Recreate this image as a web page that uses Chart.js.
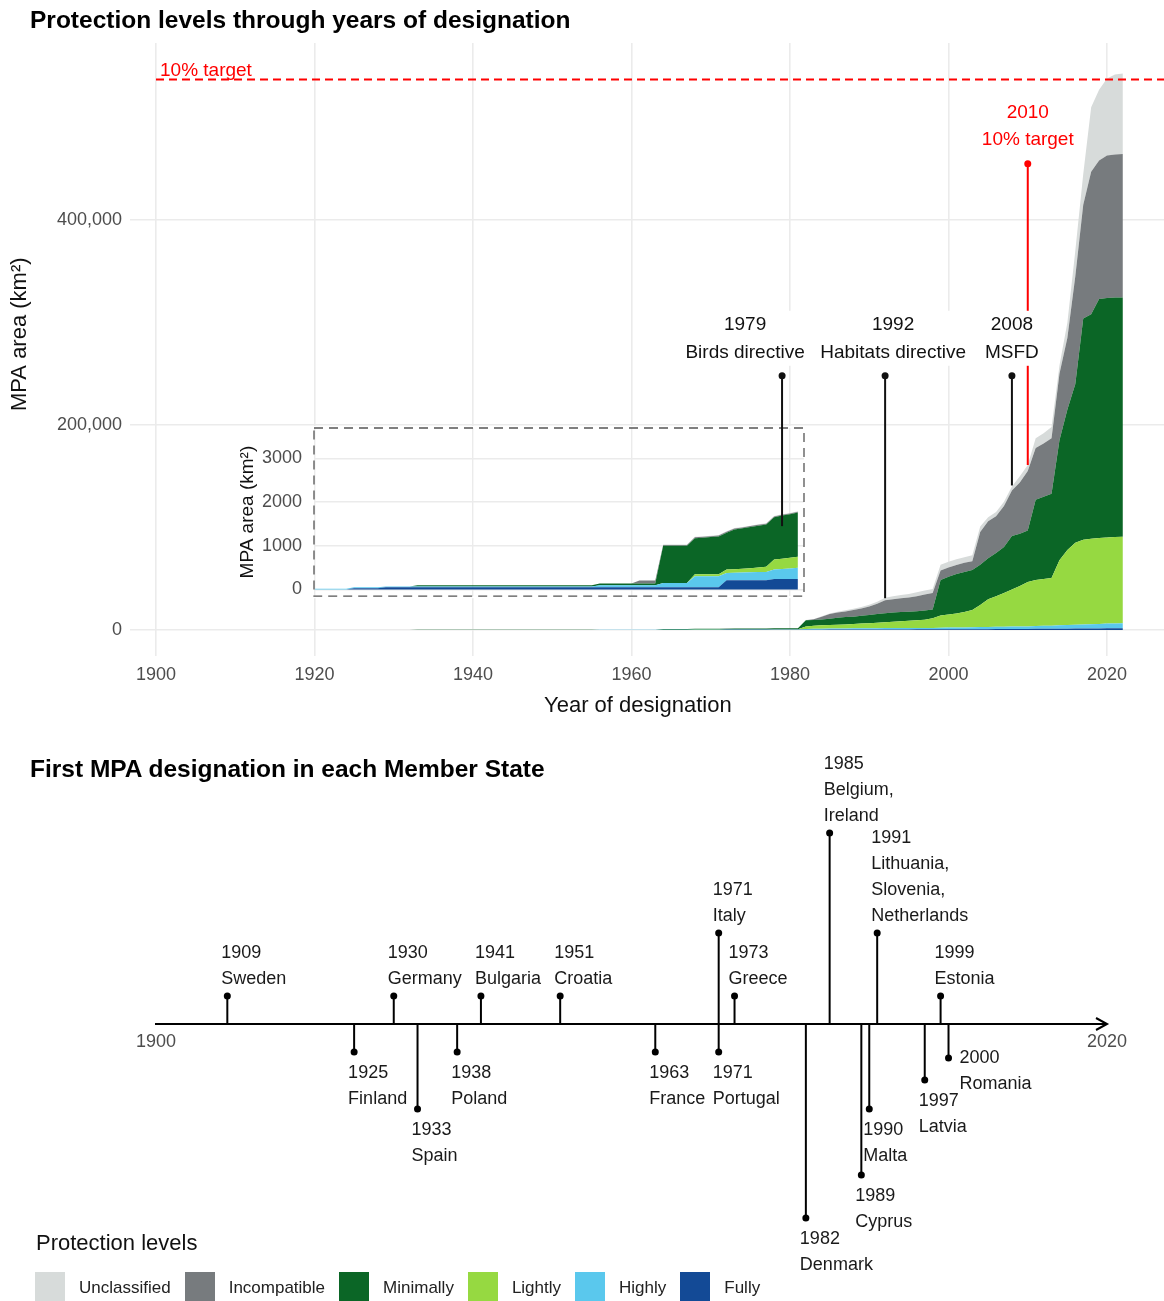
<!DOCTYPE html>
<html>
<head>
<meta charset="utf-8">
<script src="https://cdn.jsdelivr.net/npm/chart.js@4.4.1/dist/chart.umd.min.js"></script>
<style>
  html, body { margin: 0; padding: 0; background: #fff; }
  body { width: 1164px; height: 1301px; position: relative; overflow: hidden; font-family: "Liberation Sans", Arial, sans-serif; }
  canvas { position: absolute; }
  .titulo { position: absolute; left: 30px; font-weight: bold; font-size: 24.5px; line-height: 28px; color: #000; z-index: 5; }
  #leyenda { position: absolute; left: 35px; top: 1229px; z-index: 5; }
  #leyenda .cab { font-size: 22px; line-height: 28px; color: #111; margin-left: 1px; }
  #leyenda .fila { display: flex; align-items: center; margin-top: 15px; }
  #leyenda .caja { width: 30px; height: 30px; margin-right: 14px; }
  #leyenda .txt { font-size: 17px; color: #222; margin-right: 14px; position: relative; top: 1px; }
</style>
</head>
<body>
<div class="titulo" style="top:6px">Protection levels through years of designation</div>
<canvas id="mainChart" width="1164" height="720" style="left:0;top:0"></canvas>
<canvas id="insetChart" width="580" height="319" style="left:230px;top:300px"></canvas>
<div class="titulo" style="top:755px">First MPA designation in each Member State</div>
<canvas id="timelineChart" width="1164" height="540" style="left:0;top:740px"></canvas>
<div id="leyenda"></div>

<script>
// ---- datos: superficie acumulada de AMP (km²) por año y nivel de protección ----
const years = [
  1920, 1921, 1922, 1923, 1924, 1925, 1926, 1927, 1928, 1929,
  1930, 1931, 1932, 1933, 1934, 1935, 1936, 1937, 1938, 1939,
  1940, 1941, 1942, 1943, 1944, 1945, 1946, 1947, 1948, 1949,
  1950, 1951, 1952, 1953, 1954, 1955, 1956, 1957, 1958, 1959,
  1960, 1961, 1962, 1963, 1964, 1965, 1966, 1967, 1968, 1969,
  1970, 1971, 1972, 1973, 1974, 1975, 1976, 1977, 1978, 1979,
  1980, 1981, 1982, 1983, 1984, 1985, 1986, 1987, 1988, 1989,
  1990, 1991, 1992, 1993, 1994, 1995, 1996, 1997, 1998, 1999,
  2000, 2001, 2002, 2003, 2004, 2005, 2006, 2007, 2008, 2009,
  2010, 2011, 2012, 2013, 2014, 2015, 2016, 2017, 2018, 2019,
  2020, 2021, 2022
];

const fully = [
  0, 0, 0, 0, 0, 30, 30, 30, 30, 50,
  50, 50, 50, 50, 50, 50, 50, 50, 50, 50,
  50, 50, 50, 50, 50, 50, 50, 50, 50, 50,
  50, 50, 50, 50, 50, 50, 50, 50, 50, 50,
  50, 50, 50, 50, 50, 50, 50, 50, 50, 50,
  50, 50, 213, 213, 213, 213, 213, 213, 243, 243,
  243, 243, 300, 300, 300, 400, 400, 400, 400, 400,
  500, 500, 500, 500, 500, 500, 600, 600, 600, 600,
  700, 700, 700, 700, 800, 800, 900, 900, 1000, 1000,
  1000, 1100, 1100, 1200, 1200, 1300, 1400, 1400, 1500, 1500,
  1600, 1600, 1700
];

const highly = [
  20, 20, 20, 20, 20, 20, 20, 20, 20, 20,
  20, 20, 20, 20, 20, 20, 20, 20, 20, 20,
  20, 20, 20, 20, 20, 20, 20, 20, 20, 20,
  20, 20, 20, 20, 20, 20, 45, 45, 45, 45,
  45, 45, 45, 45, 100, 100, 100, 100, 255, 255,
  255, 255, 167, 170, 175, 180, 185, 190, 215, 225,
  240, 252, 700, 900, 1000, 1000, 1100, 1100, 1200, 1200,
  1200, 1200, 1300, 1300, 1300, 1400, 1300, 1400, 1400, 1600,
  1600, 1700, 1800, 1900, 2000, 2200, 2200, 2300, 2300, 2400,
  2500, 2700, 2900, 3000, 3300, 3500, 3600, 3900, 4100, 4400,
  4600, 4800, 4800
];

const lightly = [
  0, 0, 0, 0, 0, 0, 0, 0, 0, 0,
  0, 0, 0, 0, 0, 0, 0, 0, 0, 0,
  0, 0, 0, 0, 0, 0, 0, 0, 0, 0,
  0, 0, 0, 0, 0, 0, 0, 0, 0, 0,
  0, 0, 0, 0, 0, 0, 0, 0, 45, 45,
  45, 45, 78, 80, 85, 95, 105, 115, 229, 236,
  244, 252, 2500, 2800, 3200, 3400, 3500, 3800, 4200, 4600,
  4800, 5300, 5700, 6200, 6700, 7100, 7600, 8000, 9500, 11800,
  12700, 13600, 15000, 16900, 21600, 27000, 29900, 32800, 36100, 39600,
  43300, 45000, 45800, 46500, 63500, 73200, 80000, 82700, 83400, 83900,
  84100, 84300, 84400
];

const minimally = [
  0, 0, 0, 0, 0, 0, 0, 0, 0, 0,
  0, 0, 0, 25, 25, 25, 25, 25, 25, 25,
  25, 25, 25, 25, 25, 25, 25, 25, 25, 25,
  25, 25, 25, 25, 25, 25, 40, 40, 40, 40,
  40, 40, 40, 40, 850, 850, 850, 850, 825, 835,
  850, 865, 842, 912, 927, 942, 957, 967, 963, 986,
  993, 1013, 6000, 5800, 5700, 6200, 7000, 7300, 7200, 7600,
  8100, 8500, 8800, 9000, 9000, 8800, 8800, 8900, 8500, 34800,
  37000, 38500, 39000, 39000, 39300, 40000, 42000, 45000, 52300, 51000,
  50200, 78200, 80200, 82300, 117000, 137000, 155000, 216000, 219000, 233200,
  233700, 233800, 233600
];

const incompatible = [
  0, 0, 0, 0, 0, 0, 0, 0, 0, 0,
  0, 0, 0, 0, 0, 0, 0, 0, 0, 0,
  0, 0, 0, 0, 0, 0, 0, 0, 0, 0,
  0, 0, 0, 0, 0, 0, 0, 0, 0, 0,
  0, 70, 70, 70, 20, 20, 20, 20, 20, 20,
  20, 20, 20, 20, 20, 20, 20, 20, 20, 20,
  20, 20, 100, 700, 2800, 4500, 5000, 5400, 6500, 7200,
  8200, 10000, 12700, 13000, 13400, 14000, 14700, 15600, 16000, 9200,
  9000, 9000, 9000, 8500, 31900, 36000, 36000, 40000, 44300, 50000,
  58000, 50600, 52000, 54000, 65000, 70000, 105000, 111000, 139000, 135000,
  139000, 139500, 139800
];

const unclassified = [
  0, 0, 0, 0, 0, 0, 0, 0, 0, 0,
  0, 0, 0, 0, 0, 0, 0, 0, 0, 0,
  0, 0, 0, 0, 0, 0, 0, 0, 0, 0,
  0, 0, 0, 0, 0, 0, 0, 0, 0, 0,
  0, 0, 0, 0, 10, 10, 10, 10, 10, 10,
  10, 10, 10, 10, 10, 10, 10, 10, 10, 10,
  10, 10, 100, 300, 500, 500, 800, 1200, 1300, 1500,
  1700, 2000, 2500, 3000, 3100, 3400, 3800, 4000, 4000, 5700,
  5500, 5500, 5500, 6000, 5400, 4000, 4000, 4000, 4000, 6000,
  6000, 9400, 10000, 11000, 8000, 15000, 25000, 30000, 63000, 69000,
  75000, 78000, 78700
];

// niveles en el orden de la leyenda (de arriba a abajo de la pila)
const levelNames = ["Unclassified", "Incompatible", "Minimally", "Lightly", "Highly", "Fully"];
const levelColors = ["#d7dbda", "#777b7e", "#0b6626", "#96d941", "#5ac8ed", "#134a96"];
const levelValues = [unclassified, incompatible, minimally, lightly, highly, fully];

const xTicks = [1900, 1920, 1940, 1960, 1980, 2000, 2020];
const yTicks = [0, 200000, 400000];
const insetXTicks = [1920, 1940, 1960, 1980];
const insetYTicks = [0, 1000, 2000, 3000];
const insetLastYear = 1981;

// hitos legislativos
const milestoneYears = [1979, 1992, 2008, 2010];
const milestoneNames = ["Birds directive", "Habitats directive", "MSFD", "10% target"];
const milestoneTop = [248000, 248000, 248000, 455000];
const milestoneEnd = [1450, 31000, 141000, 161000]; // el de 1979 se lee en el recuadro
const milestoneColors = ["#111", "#111", "#111", "#ff0000"];
const labelShift = [-37, 8, 0, 0];
const targetArea = 537000;

// primera designación por Estado miembro
const firstYears = [1909, 1925, 1930, 1933, 1938, 1941, 1951, 1963, 1971, 1971, 1973, 1982, 1985, 1989, 1990, 1991, 1997, 1999, 2000];
const memberStates = ["Sweden", "Finland", "Germany", "Spain", "Poland", "Bulgaria", "Croatia", "France", "Italy", "Portugal", "Greece", "Denmark", "Belgium,\nIreland", "Cyprus", "Malta", "Lithuania,\nSlovenia,\nNetherlands", "Latvia", "Estonia", "Romania"];
const stemHeights = [28, -28, 28, -85, -28, 28, 28, -28, 91, -28, 28, -194, 191, -151, -85, 91, -56, 28, -34];
const sideLabels = ["Romania"];
const axisEnds = [1900, 2020];

const FONT = '"Liberation Sans", Arial, sans-serif';
Chart.defaults.font.family = FONT;
Chart.defaults.color = "#4d4d4d";

// pila: Fully abajo, Unclassified arriba
function stackedSets(lastYear) {
  const idx = years.map((y, j) => j).filter(j => years[j] <= lastYear);
  return levelNames.map((n, i) => i).reverse().map((i, k) => ({
    label: levelNames[i],
    data: idx.map(j => ({ x: years[j], y: levelValues[i][j] })),
    backgroundColor: levelColors[i],
    borderColor: "transparent",
    borderWidth: 0,
    pointRadius: 0,
    tension: 0,
    fill: k === 0 ? "origin" : "-1"
  }));
}

// ---- notas del gráfico principal ----
const mainNotes = {
  id: "mainNotes",
  afterDatasetsDraw(chart) {
    const { ctx, chartArea, scales: { x, y } } = chart;
    ctx.save();
    const yT = y.getPixelForValue(targetArea);
    const x0 = x.getPixelForValue(1900);
    ctx.strokeStyle = "#ff0000";
    ctx.lineWidth = 2;
    ctx.setLineDash([8, 5]);
    ctx.beginPath(); ctx.moveTo(x0, yT); ctx.lineTo(chartArea.right, yT); ctx.stroke();
    ctx.setLineDash([]);
    ctx.font = "19px " + FONT;
    ctx.fillStyle = "#ff0000";
    ctx.textAlign = "left";
    ctx.textBaseline = "middle";
    ctx.fillText("10% target", x0 + 4, yT - 9);

    milestoneYears.forEach((yr, i) => {
      const px = x.getPixelForValue(yr);
      const top = y.getPixelForValue(milestoneTop[i]);
      ctx.strokeStyle = milestoneColors[i];
      ctx.fillStyle = milestoneColors[i];
      ctx.lineWidth = 2;
      if (yr > insetLastYear) {
        ctx.beginPath(); ctx.moveTo(px, top); ctx.lineTo(px, y.getPixelForValue(milestoneEnd[i])); ctx.stroke();
      }
      ctx.beginPath(); ctx.arc(px, top, 3.5, 0, Math.PI * 2); ctx.fill();
    });

    milestoneYears.forEach((yr, i) => {
      const cx = x.getPixelForValue(yr) + labelShift[i];
      const top = y.getPixelForValue(milestoneTop[i]);
      const lines = [String(yr), milestoneNames[i]];
      const w = Math.max(...lines.map(t => ctx.measureText(t).width));
      ctx.fillStyle = "#fff";
      ctx.fillRect(cx - w / 2 - 4, top - 65, w + 8, 55);
      ctx.fillStyle = milestoneColors[i];
      ctx.textAlign = "center";
      ctx.fillText(lines[0], cx, top - 51);
      ctx.fillText(lines[1], cx, top - 23.5);
    });
    ctx.restore();
  }
};

const mainChart = new Chart(document.getElementById("mainChart"), {
  type: "line",
  data: { datasets: stackedSets(2022) },
  options: {
    responsive: false,
    animation: false,
    layout: { autoPadding: false, padding: { top: 43, left: 0, right: 0, bottom: 0 } },
    plugins: { legend: { display: false }, tooltip: { enabled: false } },
    scales: {
      x: {
        type: "linear", min: 1896.72, max: 2027.19,
        afterBuildTicks: s => { s.ticks = xTicks.map(v => ({ value: v })); },
        afterFit: s => { s.height = 64; },
        grid: { color: "#ebebeb", lineWidth: 1.6, drawTicks: false },
        border: { display: false },
        ticks: { padding: 8, maxRotation: 0, font: { size: 18 }, color: "#4d4d4d", callback: v => String(v) },
        title: { display: true, text: "Year of designation   ", color: "#111", font: { size: 22 }, padding: { top: 0, bottom: 1 } }
      },
      y: {
        stacked: true, min: -25400, max: 572700,
        afterBuildTicks: s => { s.ticks = yTicks.map(v => ({ value: v })); },
        afterFit: s => { s.width = 130; },
        grid: { color: "#ebebeb", lineWidth: 1.6, drawTicks: false },
        border: { display: false },
        ticks: { padding: 8, font: { size: 18 }, color: "#4d4d4d", callback: v => v.toLocaleString("en-US") },
        title: { display: true, text: "     MPA area (km²)", color: "#111", font: { size: 22 }, padding: { top: 7, bottom: 0 } }
      }
    }
  },
  plugins: [mainNotes]
});

// ---- recuadro 1920-1981 ----
const insetCanvas = document.getElementById("insetChart");
const insetNotes = {
  id: "insetNotes",
  beforeDraw(chart) {
    const { ctx, chartArea } = chart;
    ctx.save();
    ctx.fillStyle = "#fff";
    ctx.fillRect(0, chartArea.top - 2, chart.width, chartArea.bottom - chartArea.top + 4);
    ctx.restore();
  },
  afterDatasetsDraw(chart) {
    const { ctx, chartArea, scales: { x, y } } = chart;
    ctx.save();
    ctx.strokeStyle = "#555";
    ctx.lineWidth = 1.3;
    ctx.setLineDash([9, 6]);
    ctx.strokeRect(chartArea.left, chartArea.top, chartArea.right - chartArea.left, chartArea.bottom - chartArea.top);
    ctx.setLineDash([]);
    const dy = insetCanvas.offsetTop - document.getElementById("mainChart").offsetTop;
    milestoneYears.forEach((yr, i) => {
      if (yr > insetLastYear) return;
      const px = x.getPixelForValue(yr);
      ctx.strokeStyle = milestoneColors[i];
      ctx.lineWidth = 2;
      ctx.beginPath();
      ctx.moveTo(px, mainChart.scales.y.getPixelForValue(milestoneTop[i]) - dy);
      ctx.lineTo(px, y.getPixelForValue(milestoneEnd[i]));
      ctx.stroke();
    });
    ctx.restore();
  }
};

new Chart(insetCanvas, {
  type: "line",
  data: { datasets: stackedSets(insetLastYear) },
  options: {
    responsive: false,
    animation: false,
    layout: { autoPadding: false, padding: { top: 128, left: 0, right: 6, bottom: 4 } },
    plugins: { legend: { display: false }, tooltip: { enabled: false } },
    scales: {
      x: {
        type: "linear", min: 1919.94, max: 1981.77,
        afterBuildTicks: s => { s.ticks = insetXTicks.map(v => ({ value: v })); },
        afterFit: s => { s.height = 0; },
        grid: { color: "#ebebeb", lineWidth: 1.4, drawTicks: false },
        border: { display: false },
        ticks: { display: false }
      },
      y: {
        stacked: true, min: -153, max: 3694,
        afterBuildTicks: s => { s.ticks = insetYTicks.map(v => ({ value: v })); },
        afterFit: s => { s.width = 84; },
        grid: { color: "#ebebeb", lineWidth: 1.4, drawTicks: false },
        border: { display: false },
        ticks: { padding: 12, font: { size: 18 }, color: "#4d4d4d", callback: v => String(v) },
        title: { display: true, text: "MPA area (km²)", color: "#111", font: { size: 19 }, padding: { top: 6, bottom: 0 } }
      }
    }
  },
  plugins: [insetNotes]
});

// ---- línea de tiempo ----
const timelineNotes = {
  id: "timelineNotes",
  beforeDatasetsDraw(chart) {
    const { ctx, scales: { x, y } } = chart;
    const y0 = y.getPixelForValue(0);
    ctx.save();
    ctx.strokeStyle = "#000";
    ctx.lineWidth = 2;
    const xa = x.getPixelForValue(axisEnds[0]) - 1;
    const xb = x.getPixelForValue(axisEnds[1]);
    ctx.beginPath(); ctx.moveTo(xa, y0); ctx.lineTo(xb, y0); ctx.stroke();
    ctx.beginPath(); ctx.moveTo(xb - 11, y0 - 6); ctx.lineTo(xb, y0); ctx.lineTo(xb - 11, y0 + 6); ctx.stroke();
    firstYears.forEach((yr, i) => {
      const px = x.getPixelForValue(yr);
      ctx.beginPath(); ctx.moveTo(px, y0); ctx.lineTo(px, y.getPixelForValue(stemHeights[i])); ctx.stroke();
    });
    ctx.restore();
  },
  afterDatasetsDraw(chart) {
    const { ctx, scales: { x, y } } = chart;
    ctx.save();
    ctx.font = "18px " + FONT;
    ctx.fillStyle = "#1a1a1a";
    ctx.textAlign = "left";
    ctx.textBaseline = "middle";
    firstYears.forEach((yr, i) => {
      const px = x.getPixelForValue(yr);
      const py = y.getPixelForValue(stemHeights[i]);
      const lines = [String(yr), ...memberStates[i].split("\n")];
      lines.forEach((t, k) => {
        let lx = px - 6, ly;
        if (sideLabels.includes(memberStates[i])) { lx = px + 11; ly = py + k * 26; }
        else if (stemHeights[i] > 0) ly = py - 17 - (lines.length - 1 - k) * 26;
        else ly = py + 21 + k * 26;
        ctx.fillText(t, lx, ly);
      });
    });
    ctx.restore();
  }
};

new Chart(document.getElementById("timelineChart"), {
  type: "scatter",
  data: {
    datasets: [{
      data: firstYears.map((yr, i) => ({ x: yr, y: stemHeights[i] })),
      pointRadius: 3.5,
      backgroundColor: "#000",
      borderWidth: 0
    }]
  },
  options: {
    responsive: false,
    animation: false,
    layout: { autoPadding: false, padding: { top: 0, left: 130, right: 0, bottom: 0 } },
    plugins: { legend: { display: false }, tooltip: { enabled: false } },
    scales: {
      x: {
        type: "linear", min: 1896.72, max: 2027.19,
        position: { y: 0 },
        afterBuildTicks: s => { s.ticks = axisEnds.map(v => ({ value: v })); },
        grid: { display: false, drawTicks: false },
        border: { display: false },
        ticks: { padding: 7, maxRotation: 0, font: { size: 18 }, color: "#4d4d4d", callback: v => String(v) }
      },
      y: { min: -256, max: 284, display: false }
    }
  },
  plugins: [timelineNotes]
});

// ---- leyenda ----
const leyenda = document.getElementById("leyenda");
const cab = document.createElement("div");
cab.className = "cab";
cab.textContent = "Protection levels";
leyenda.appendChild(cab);
const fila = document.createElement("div");
fila.className = "fila";
levelNames.forEach((n, i) => {
  const caja = document.createElement("span");
  caja.className = "caja";
  caja.style.background = levelColors[i];
  const txt = document.createElement("span");
  txt.className = "txt";
  txt.textContent = n;
  fila.appendChild(caja);
  fila.appendChild(txt);
});
leyenda.appendChild(fila);
</script>
</body>
</html>
